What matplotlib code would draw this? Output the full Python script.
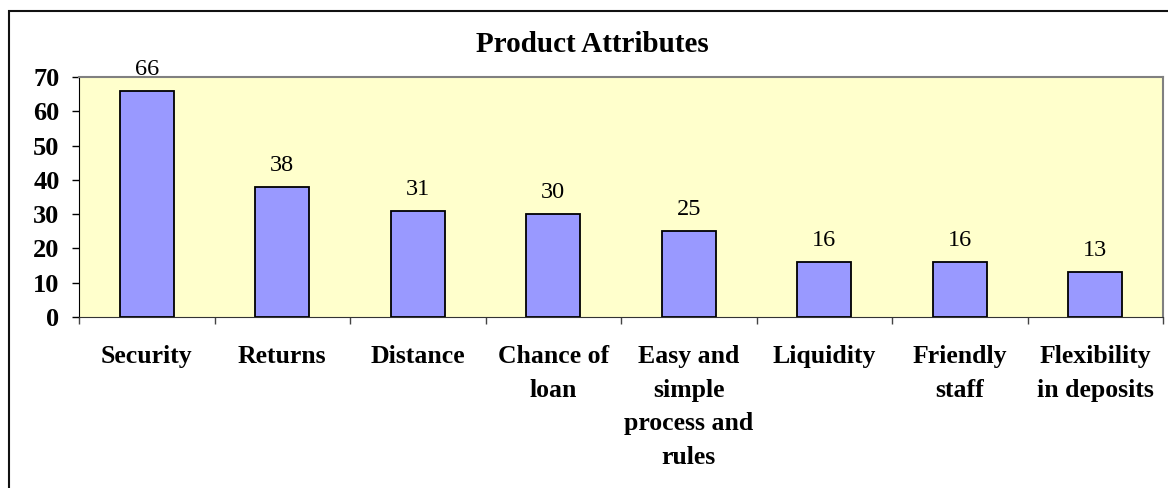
import numpy as np
import matplotlib
matplotlib.use('Agg')
import matplotlib.pyplot as plt
from matplotlib.patches import Rectangle

plt.rcParams['font.family'] = ['Liberation Serif', 'DejaVu Serif']

# survey counts per attribute
attributes = ['Security', 'Returns', 'Distance', 'Chance of\nloan',
              'Easy and\nsimple\nprocess and\nrules', 'Liquidity',
              'Friendly\nstaff', 'Flexibility\nin deposits']
counts = [66, 38, 31, 30, 25, 16, 16, 13]
y_ticks = [0, 10, 20, 30, 40, 50, 60, 70]

W, H = 1168, 488
fig = plt.figure(figsize=(W / 100, H / 100), dpi=100)
ax = fig.add_axes([79 / W, 1 - 317 / H, (1163 - 79) / W, (317 - 77) / H])
ax.set_facecolor('#FFFFCC')

x = np.arange(len(counts))
bars = ax.bar(x, counts, width=0.4, color='#9999FF', edgecolor='black', linewidth=1.3, zorder=2)

for xi, v in zip(x, counts):
    ax.annotate(str(v), (xi, v), xytext=(0, 8), textcoords='offset points',
                ha='center', va='bottom', fontsize=17.5)

ax.set_xlim(-0.5, len(counts) - 0.5)
ax.set_ylim(0, 70)
ax.set_yticks(y_ticks)
ax.set_yticklabels([str(t) for t in y_ticks], fontsize=19, fontweight='bold')
ax.tick_params(axis='y', direction='out', length=5, width=1, pad=9)

# category boundaries get the tick marks, names sit in between
ax.set_xticks(np.arange(-0.5, len(counts), 1.0))
ax.set_xticklabels([])
ax.set_xticks(x, minor=True)
ax.set_xticklabels(attributes, minor=True, fontsize=18.5, fontweight='bold',
                   linespacing=1.6, multialignment='center')
ax.tick_params(axis='x', which='major', direction='out', length=5, width=1, color='#444444')
ax.tick_params(axis='x', which='minor', length=0, pad=20)

for side in ['top', 'right']:
    ax.spines[side].set_color('#808080')
    ax.spines[side].set_linewidth(1.5)
ax.spines['left'].set_color('black')
ax.spines['bottom'].set_color('#333333')

fig.text(592 / W, 1 - 52 / H, 'Product Attributes', ha='center', va='baseline',
         fontsize=21, fontweight='bold')

# chart area border
fig.add_artist(Rectangle((9 / W, -0.1), 2, 0.1 + 1 - 11 / H, transform=fig.transFigure,
                         fill=False, edgecolor='#111111', linewidth=1.5))

fig.savefig('out.png', dpi=100)
